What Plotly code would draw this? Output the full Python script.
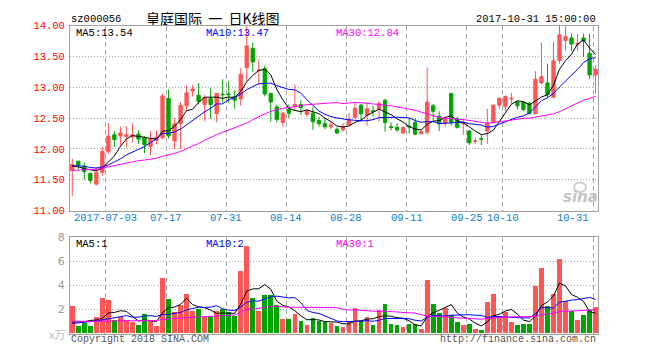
import plotly.graph_objects as go

# ---------------- data ----------------
opens = [11.65, 11.80, 11.72, 11.60, 11.43, 11.62, 11.96, 12.23, 12.21, 12.20,
         12.20, 12.24, 12.18, 12.04, 12.14, 12.18, 12.82, 12.13, 12.41, 12.70,
         12.94, 12.87, 12.72, 12.82, 12.57, 12.89, 12.89, 12.85, 12.81, 13.32,
         13.63, 13.27, 13.30, 12.90, 12.68, 12.43, 12.64, 12.69, 12.72, 12.56,
         12.58, 12.46, 12.41, 12.36, 12.32, 12.31, 12.39, 12.51, 12.71, 12.55,
         12.62, 12.65, 12.79, 12.36, 12.35, 12.26, 12.37, 12.43, 12.25, 12.27,
         12.70, 12.53, 12.42, 12.90, 12.49, 12.41, 12.29, 12.12, 12.17, 12.29,
         12.43, 12.71, 12.69, 12.81, 12.76, 12.76, 12.74, 12.57, 13.07, 13.07,
         12.84, 13.43, 13.76, 13.80, 13.69, 13.80, 13.55, 13.20]
highs = [11.84, 11.81, 11.78, 11.62, 11.70, 12.03, 12.42, 12.29, 12.36, 12.37,
         12.42, 12.30, 12.21, 12.29, 12.30, 12.90, 12.96, 12.50, 12.76, 13.03,
         13.04, 13.07, 12.87, 12.98, 12.90, 13.13, 13.10, 12.95, 13.31, 13.99,
         13.72, 13.45, 13.35, 12.90, 12.72, 12.60, 12.72, 13.04, 12.79, 12.65,
         12.68, 12.52, 12.50, 12.43, 12.35, 12.42, 12.58, 12.76, 12.73, 12.73,
         12.70, 12.78, 12.81, 12.43, 12.42, 12.36, 12.50, 12.50, 12.30, 13.32,
         12.73, 12.61, 12.53, 12.90, 12.52, 12.48, 12.31, 12.18, 12.23, 12.65,
         12.72, 12.84, 12.87, 12.91, 12.78, 12.78, 12.76, 13.26, 13.72, 13.38,
         13.74, 14.00, 13.99, 13.87, 13.87, 13.87, 13.87, 13.36]
lows = [11.23, 11.66, 11.50, 11.44, 11.41, 11.57, 11.92, 12.03, 12.05, 12.03,
        12.10, 12.08, 11.93, 11.90, 12.08, 12.16, 12.17, 12.00, 12.00, 12.62,
        12.85, 12.72, 12.45, 12.49, 12.43, 12.75, 12.75, 12.65, 12.70, 13.10,
        13.25, 13.04, 12.85, 12.44, 12.43, 12.36, 12.50, 12.62, 12.55, 12.52,
        12.31, 12.36, 12.32, 12.32, 12.24, 12.28, 12.38, 12.49, 12.45, 12.38,
        12.52, 12.44, 12.28, 12.30, 12.28, 12.24, 12.25, 12.22, 12.23, 12.23,
        12.44, 12.29, 12.36, 12.38, 12.33, 12.23, 12.06, 12.08, 12.06, 12.08,
        12.42, 12.65, 12.61, 12.73, 12.64, 12.61, 12.56, 12.56, 13.05, 12.83,
        12.83, 13.38, 13.59, 13.59, 13.59, 13.49, 13.13, 12.90]
closes = [11.75, 11.74, 11.63, 11.49, 11.62, 11.96, 12.21, 12.15, 12.26, 12.23,
          12.23, 12.16, 12.07, 12.16, 12.19, 12.86, 12.21, 12.41, 12.71, 12.91,
          12.97, 12.77, 12.83, 12.72, 12.90, 12.88, 12.88, 12.79, 13.21, 13.67,
          13.41, 13.28, 12.89, 12.76, 12.48, 12.58, 12.58, 12.72, 12.67, 12.62,
          12.44, 12.41, 12.36, 12.39, 12.26, 12.36, 12.48, 12.66, 12.57, 12.65,
          12.61, 12.74, 12.43, 12.35, 12.31, 12.35, 12.36, 12.24, 12.28, 12.76,
          12.61, 12.41, 12.49, 12.43, 12.35, 12.43, 12.10, 12.13, 12.16, 12.42,
          12.71, 12.82, 12.85, 12.82, 12.70, 12.64, 12.57, 13.13, 13.17, 12.88,
          13.43, 13.85, 13.82, 13.70, 13.71, 13.75, 13.20, 13.29]
# volume, in units of 10,000 (x万)
volumes = [2.24, 0.64, 0.85, 0.64, 1.33, 2.96, 2.80, 1.09, 1.36, 1.09,
           0.96, 0.72, 1.60, 1.15, 0.64, 4.56, 2.88, 1.81, 2.32, 3.23,
           1.84, 2.00, 1.39, 1.36, 1.84, 2.03, 1.76, 1.44, 5.15, 7.28,
           2.96, 1.84, 3.20, 3.15, 2.37, 1.20, 1.20, 1.63, 1.04, 0.72,
           1.28, 1.04, 0.96, 0.90, 0.64, 0.56, 1.04, 2.08, 1.04, 1.33,
           0.72, 1.92, 2.48, 0.80, 0.72, 0.56, 0.80, 0.80, 0.40, 4.40,
           2.40, 1.68, 2.08, 1.52, 0.96, 0.72, 0.80, 0.40, 0.32, 2.64,
           3.28, 1.44, 1.76, 0.96, 0.72, 0.80, 0.80, 3.92, 5.44, 2.24,
           3.28, 6.16, 2.72, 1.84, 1.12, 1.52, 1.92, 2.16]

# moving-average values before a full window exists
ma5_head = [11.72, 11.71, 11.68, 11.66]
ma10_head = [11.73, 11.73, 11.72, 11.70, 11.69, 11.71, 11.74, 11.79, 11.84]
ma30_head = [11.65, 11.66, 11.66, 11.67, 11.67, 11.69, 11.71, 11.73, 11.76, 11.78,
             11.80, 11.81, 11.82, 11.83, 11.85, 11.88, 11.90, 11.93, 11.96, 12.00,
             12.04, 12.09, 12.14, 12.19, 12.23, 12.27, 12.31, 12.35, 12.39]
vma5_head = [0.96, 0.96, 1.00, 1.10]
vma10_head = [0.85, 0.90, 0.95, 0.98, 1.05, 1.15, 1.25, 1.32, 1.40]
vma30_head = [1.05, 1.02, 1.02, 1.02, 1.02, 1.05, 1.07, 1.07, 1.07, 1.07,
              1.07, 1.07, 1.07, 1.08, 1.09, 1.20, 1.25, 1.27, 1.30, 1.33,
              1.36, 1.40, 1.42, 1.45, 1.47, 1.50, 1.52, 1.55, 1.80]

# date ticks: trading-day index of each labelled date
tick_days = [6, 16, 26, 36, 46, 56, 66, 72, 87]
tick_labels = ["2017-07-03", "07-17", "07-31", "08-14", "08-28",
               "09-11", "09-25", "10-10", "10-31"]
price_ticks = [11.0, 11.5, 12.0, 12.5, 13.0, 13.5, 14.0]
vol_ticks = [2, 4, 6, 8]

title_text = "皇庭国际\u00a0\u00a0一\u00a0\u00a0日K线图"
code_text = "sz000056"
time_text = "2017-10-31 15:00:00"
price_ma_labels = ["MA5:13.54", "MA10:13.47", "MA30:12.84"]
vol_ma_labels = ["MA5:1", "MA10:2", "MA30:1"]


def moving_avg(vals, n, head):
    out = list(head)
    for i in range(len(head), len(vals)):
        out.append(sum(vals[i - n + 1:i + 1]) / n)
    return out


x = list(range(len(closes)))
RED = "#FF5555"
GREEN = "#00A400"
W, H = 660, 360


def px(v):
    return v / W


def py(v):
    return 1 - v / H


fig = go.Figure()

fig.add_trace(go.Candlestick(
    x=x, open=opens, high=highs, low=lows, close=closes,
    increasing=dict(line=dict(color=RED, width=1), fillcolor=RED),
    decreasing=dict(line=dict(color=GREEN, width=1), fillcolor=GREEN),
    whiskerwidth=0, xaxis="x", yaxis="y", showlegend=False, hoverinfo="skip"))

ma_colors = ["#000000", "#0000FF", "#FF00FF"]
for n, head, c in zip([5, 10, 30], [ma5_head, ma10_head, ma30_head], ma_colors):
    fig.add_trace(go.Scatter(x=x, y=moving_avg(closes, n, head), mode="lines",
                             line=dict(color=c, width=1), xaxis="x", yaxis="y",
                             showlegend=False, hoverinfo="skip"))

bar_colors = [RED if c >= o else GREEN for o, c in zip(opens, closes)]
fig.add_trace(go.Bar(x=x, y=volumes, marker=dict(color=bar_colors, line=dict(width=0)),
                     width=0.78, xaxis="x2", yaxis="y2", showlegend=False,
                     hoverinfo="skip"))
for n, head, c in zip([5, 10, 30], [vma5_head, vma10_head, vma30_head], ma_colors):
    fig.add_trace(go.Scatter(x=x, y=moving_avg(volumes, n, head), mode="lines",
                             line=dict(color=c, width=1), xaxis="x2", yaxis="y2",
                             showlegend=False, hoverinfo="skip"))

grid_x = [d - 0.4 for d in tick_days]
xdom = [px(70), px(598)]
xr = [-0.38, 87.4]
axis_common = dict(showline=True, linecolor="#A0A0A0", linewidth=1, mirror=True,
                   zeroline=False, fixedrange=True)

fig.update_layout(
    width=W, height=H, margin=dict(l=0, r=0, t=0, b=0),
    paper_bgcolor="white", plot_bgcolor="white", boxgap=0.22, bargap=0,
    font=dict(family="Liberation Mono", size=10, color="#000"),
    xaxis=dict(domain=xdom, range=xr, anchor="y", tickvals=grid_x,
               showticklabels=False, ticks="", showgrid=True, gridcolor="#A8A8A8",
               griddash="5px,3px", gridwidth=1, rangeslider=dict(visible=False),
               **axis_common),
    yaxis=dict(domain=[py(212.3), py(20.3)], range=[11, 14], anchor="x",
               tickvals=price_ticks, ticktext=["%.2f" % v for v in price_ticks],
               tickfont=dict(color="#FF0000", size=10.5, family="Liberation Mono"),
               ticks="", ticklabelstandoff=2, showgrid=True, gridcolor="#A8A8A8",
               griddash="1px,2px", **axis_common),
    xaxis2=dict(domain=xdom, range=xr, anchor="y2", tickvals=grid_x,
                showticklabels=False, ticks="", showgrid=True, gridcolor="#A8A8A8",
                griddash="5px,3px", gridwidth=1, **axis_common),
    yaxis2=dict(domain=[py(340), py(240)], range=[0, 8], anchor="x2",
                tickvals=vol_ticks, ticktext=[str(v) for v in vol_ticks],
                tickfont=dict(color="#999999", size=11, family="DejaVu Sans"),
                ticks="", ticklabelstandoff=2, showgrid=True, gridcolor="#A8A8A8",
                griddash="1px,2px", **axis_common),
)

ann = []


def add_text(text, xpx, ypx, anchor="left", color="#000", size=10,
             family="Liberation Mono", **kw):
    ann.append(dict(text=text, x=px(xpx), y=py(ypx), xref="paper", yref="paper",
                    xanchor=anchor, yanchor="middle", showarrow=False,
                    font=dict(color=color, size=size, family=family), **kw))


add_text(code_text, 69, 13, size=10.5, height=12)
add_text(title_text, 213, 12, anchor="center", size=14, family="Noto Sans CJK SC",
         height=15)
add_text(time_text, 598, 13, anchor="right", size=10.5, height=12)

ma_x = [74, 204, 334]
for lab, xx, c in zip(price_ma_labels, ma_x, ma_colors):
    add_text(lab, xx, 27, color=c, size=10.5, height=11)
for lab, xx, c in zip(vol_ma_labels, ma_x, ma_colors):
    add_text(lab, xx, 246, color=c, size=10.5, height=11)

# date labels under the price panel
for d, lab in zip(tick_days, tick_labels):
    cx = 72.3 + (d - 0.4) * 6.012
    if d == tick_days[-1]:
        add_text(lab, 591, 220, anchor="right", color="#0A80CC", size=10.5)
    else:
        add_text(lab, cx, 220, anchor="center", color="#0A80CC", size=10.5)

add_text("Copyright 2018 SINA.COM", 69, 346, color="#555555", size=10)
add_text("http://finance.sina.com.cn", 598, 346, anchor="right", color="#555555", size=10)
add_text("x万", 57, 340, anchor="center", color="#BBBBBB", size=11,
         family="Noto Sans CJK SC")
add_text("<b><i>sina</i></b>", 580, 198, anchor="center", color="#C4C4C4", size=15,
         family="DejaVu Sans")

fig.update_layout(annotations=ann)
fig.add_shape(type="circle", xref="paper", yref="paper",
              x0=px(574), x1=px(586), y0=py(193), y1=py(183),
              line=dict(color="#D0D0D0", width=2))

fig.write_html("out.html", config={"displayModeBar": False},
               post_script="document.body.style.margin='0px';")
